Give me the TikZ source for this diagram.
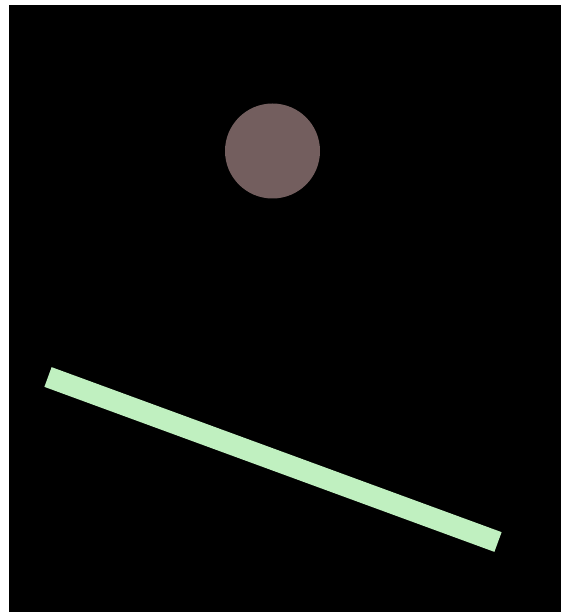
\documentclass[tikz,border=0pt]{standalone}
\usepackage{tikz}
\usetikzlibrary{calc}
\definecolor{ballbrown}{RGB}{115,94,94}
\definecolor{barmint}{RGB}{192,240,192}

\begin{document}
\begin{tikzpicture}[x=1pt,y=-1pt]
  \useasboundingbox (0,0) rectangle (560,612);
  % Background
  \fill[black] (9,5) rectangle (566,618);
  % Ball
  \node[circle, fill=ballbrown, minimum size=95pt, inner sep=0pt] (ball) at (272.5,151) {};
  % Bar
  \coordinate (barL) at (48,377);
  \coordinate (barR) at (498,542);
  \draw[barmint, line width=21pt] (barL) -- (barR);
\end{tikzpicture}
\end{document}
